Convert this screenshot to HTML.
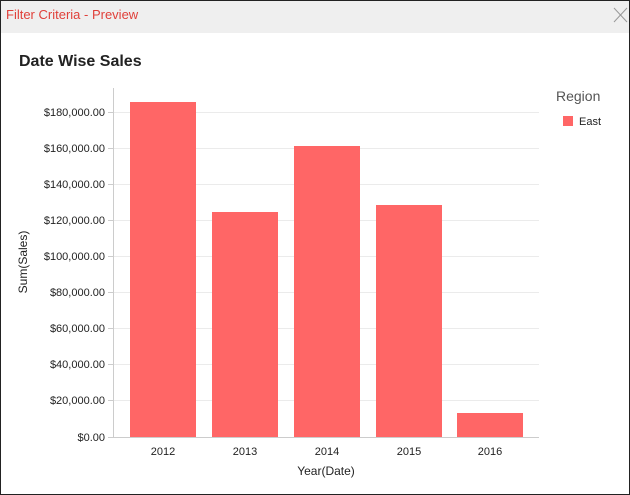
<!DOCTYPE html>
<html><head><style>
body{margin:0;width:630px;height:495px;overflow:hidden;background:#fff;font-family:"Liberation Sans",sans-serif;}
.frame{position:absolute;left:0;top:0;width:628px;height:493px;border:1px solid #222;}
</style></head><body>
<div class="frame"></div>
<div style="position:absolute;left:1px;top:1px;width:628px;height:32px;background:#efefef;"></div>
<div style="position:absolute;left:6px;top:7px;font-size:13px;color:#e0403a;">Filter Criteria - Preview</div>
<svg width="630" height="495" style="position:absolute;left:0;top:0">
<line x1="614" y1="8" x2="627" y2="22" stroke="#999" stroke-width="1"/>
<line x1="627" y1="8" x2="614" y2="22" stroke="#999" stroke-width="1"/>
<text x="19" y="66" font-size="16" font-weight="bold" fill="#222">Date Wise Sales</text>
<g stroke="#ebebeb" stroke-width="1">
<line x1="114" x2="539" y1="112.5" y2="112.5"/>
<line x1="114" x2="539" y1="148.5" y2="148.5"/>
<line x1="114" x2="539" y1="184.5" y2="184.5"/>
<line x1="114" x2="539" y1="220.5" y2="220.5"/>
<line x1="114" x2="539" y1="256.5" y2="256.5"/>
<line x1="114" x2="539" y1="292.5" y2="292.5"/>
<line x1="114" x2="539" y1="328.5" y2="328.5"/>
<line x1="114" x2="539" y1="364.5" y2="364.5"/>
<line x1="114" x2="539" y1="400.5" y2="400.5"/>
</g>
<g fill="#ff6666">
<rect x="130" y="102" width="66" height="335"/>
<rect x="212" y="212" width="66" height="225"/>
<rect x="294" y="146" width="66" height="291"/>
<rect x="376" y="205" width="66" height="232"/>
<rect x="457" y="413" width="66" height="24"/>
</g>
<line x1="113.5" y1="88" x2="113.5" y2="437" stroke="#ccc"/>
<line x1="113" y1="437.5" x2="539" y2="437.5" stroke="#ccc"/>
<g stroke="#ccc">
<line x1="108" x2="114" y1="112.5" y2="112.5"/><line x1="108" x2="114" y1="148.5" y2="148.5"/>
<line x1="108" x2="114" y1="184.5" y2="184.5"/><line x1="108" x2="114" y1="220.5" y2="220.5"/>
<line x1="108" x2="114" y1="256.5" y2="256.5"/><line x1="108" x2="114" y1="292.5" y2="292.5"/>
<line x1="108" x2="114" y1="328.5" y2="328.5"/><line x1="108" x2="114" y1="364.5" y2="364.5"/>
<line x1="108" x2="114" y1="400.5" y2="400.5"/><line x1="108" x2="114" y1="437.5" y2="437.5"/>
</g>
<g font-size="11" fill="#222" text-anchor="end">
<text x="105" y="116">$180,000.00</text><text x="105" y="152">$160,000.00</text>
<text x="105" y="188">$140,000.00</text><text x="105" y="224">$120,000.00</text>
<text x="105" y="260">$100,000.00</text><text x="105" y="296">$80,000.00</text>
<text x="105" y="332">$60,000.00</text><text x="105" y="368">$40,000.00</text>
<text x="105" y="404">$20,000.00</text><text x="105" y="441">$0.00</text>
</g>
<g font-size="11" fill="#222" text-anchor="middle">
<text x="163" y="455">2012</text><text x="245" y="455">2013</text>
<text x="327" y="455">2014</text><text x="409" y="455">2015</text><text x="490" y="455">2016</text>
</g>
<text x="326" y="475" font-size="12" fill="#222" text-anchor="middle">Year(Date)</text>
<text transform="translate(27,262) rotate(-90)" font-size="12" fill="#222" text-anchor="middle">Sum(Sales)</text>
<text x="556" y="101" font-size="14" fill="#555">Region</text>
<rect x="563" y="116" width="10" height="10" fill="#ff6666"/>
<text x="579" y="125" font-size="11" fill="#222">East</text>
</svg>
</body></html>
